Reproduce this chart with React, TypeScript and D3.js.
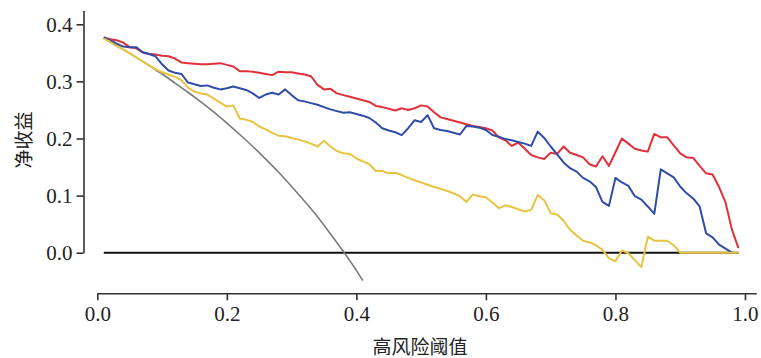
import { useEffect, useRef } from 'react';
import * as d3 from 'd3';

// risk thresholds 0.01 .. 0.99
const thresholds = d3.range(1, 100).map(i => i / 100);

const redNB = [
  0.377, 0.374, 0.372, 0.368, 0.360, 0.358, 0.351, 0.348, 0.347, 0.345,
  0.344, 0.340, 0.333, 0.332, 0.331, 0.330, 0.330, 0.331, 0.332, 0.329,
  0.326, 0.318, 0.318, 0.317, 0.315, 0.313, 0.311, 0.317, 0.316, 0.316,
  0.314, 0.312, 0.309, 0.294, 0.286, 0.287, 0.279, 0.276, 0.273, 0.270,
  0.267, 0.264, 0.257, 0.255, 0.252, 0.249, 0.253, 0.250, 0.253, 0.258,
  0.256, 0.246, 0.237, 0.234, 0.231, 0.228, 0.225, 0.222, 0.220, 0.218,
  0.214, 0.202, 0.197, 0.187, 0.193, 0.182, 0.171, 0.167, 0.164, 0.175,
  0.173, 0.186, 0.175, 0.171, 0.167, 0.155, 0.151, 0.169, 0.152, 0.176,
  0.200, 0.191, 0.182, 0.179, 0.177, 0.208, 0.202, 0.202, 0.188, 0.174,
  0.167, 0.166, 0.152, 0.139, 0.137, 0.115, 0.088, 0.040, 0.008,
];

const blueNB = [
  0.377, 0.372, 0.366, 0.361, 0.360, 0.360, 0.351, 0.348, 0.344, 0.330,
  0.319, 0.315, 0.313, 0.298, 0.295, 0.292, 0.293, 0.289, 0.286, 0.288,
  0.291, 0.288, 0.285, 0.279, 0.271, 0.277, 0.280, 0.277, 0.286, 0.276,
  0.267, 0.265, 0.262, 0.259, 0.255, 0.251, 0.248, 0.245, 0.246, 0.243,
  0.240, 0.236, 0.228, 0.218, 0.214, 0.211, 0.206, 0.218, 0.232, 0.229,
  0.241, 0.218, 0.215, 0.213, 0.210, 0.207, 0.222, 0.221, 0.219, 0.215,
  0.206, 0.203, 0.199, 0.197, 0.194, 0.191, 0.187, 0.212, 0.201, 0.186,
  0.172, 0.158, 0.148, 0.142, 0.131, 0.125, 0.115, 0.089, 0.082, 0.131,
  0.123, 0.117, 0.099, 0.093, 0.081, 0.068, 0.146, 0.139, 0.132, 0.116,
  0.104, 0.095, 0.081, 0.034, 0.027, 0.014, 0.007, 0.000,
];

const yellowNB = [
  0.375, 0.369, 0.362, 0.356, 0.349, 0.342, 0.335, 0.328, 0.321, 0.316,
  0.312, 0.308, 0.302, 0.289, 0.282, 0.279, 0.277, 0.270, 0.263, 0.256,
  0.258, 0.235, 0.233, 0.229, 0.221, 0.216, 0.210, 0.205, 0.204, 0.201,
  0.198, 0.195, 0.191, 0.186, 0.196, 0.186, 0.178, 0.174, 0.173, 0.165,
  0.160, 0.155, 0.143, 0.143, 0.139, 0.140, 0.136, 0.131, 0.127, 0.123,
  0.119, 0.115, 0.112, 0.108, 0.104, 0.099, 0.089, 0.102, 0.099, 0.097,
  0.088, 0.078, 0.083, 0.080, 0.076, 0.072, 0.075, 0.101, 0.092, 0.069,
  0.067, 0.056, 0.040, 0.030, 0.021, 0.018, 0.013, 0.005, -0.010, -0.015,
  0.004, -0.001, -0.013, -0.025, 0.028, 0.021, 0.021, 0.021, 0.013, 0.000,
  0.000, 0.000, 0.000, 0.000, 0.000, 0.000, 0.000, 0.000, 0.000,
];

// treat-all curve
const allX = [0.01, 0.02, 0.03, 0.04, 0.05, 0.06, 0.07, 0.08, 0.09, 0.10,
  0.12, 0.14, 0.16, 0.18, 0.20, 0.22, 0.24, 0.26, 0.28, 0.30,
  0.32, 0.34, 0.36, 0.38, 0.40, 0.41];
const allNB = [0.375, 0.369, 0.362, 0.356, 0.349, 0.342, 0.335, 0.328, 0.320, 0.313,
  0.297, 0.281, 0.264, 0.246, 0.227, 0.207, 0.186, 0.164, 0.141, 0.116,
  0.090, 0.063, 0.033, 0.002, -0.031, -0.049];

// treat-none line
const noneX = [0.01, 0.99];
const noneNB = [0, 0];

const xTicks = [0, 0.2, 0.4, 0.6, 0.8, 1.0];
const yTicks = [0, 0.1, 0.2, 0.3, 0.4];

const series = [
  { name: 'red', x: thresholds, y: redNB, color: '#e0313b', width: 2 },
  { name: 'blue', x: thresholds, y: blueNB, color: '#2f4da8', width: 2 },
  { name: 'yellow', x: thresholds, y: yellowNB, color: '#e8c442', width: 2 },
];

const width = 761, height = 358;

const App = () => {
  const ref = useRef<SVGSVGElement | null>(null);

  useEffect(() => {
    const svg = d3.select(ref.current);
    svg.selectAll('*').remove();

    const x = d3.scaleLinear().domain([0, 1.0175]).range([97.3, 756.3]);
    const y = d3.scaleLinear().domain([0, 0.424]).range([252.7, 10.6]);

    const serif = '"Liberation Serif", "Times New Roman", serif';
    const cjk = '"Noto Sans CJK SC", sans-serif';

    // axes
    const gx = svg.append('g')
      .attr('transform', 'translate(0,293.3)')
      .call(d3.axisBottom(x).tickValues(xTicks).tickFormat(d3.format('.1f'))
        .tickSizeInner(7).tickSizeOuter(0).tickPadding(6));
    const gy = svg.append('g')
      .attr('transform', 'translate(83.5,0)')
      .call(d3.axisLeft(y).tickValues(yTicks).tickFormat(d3.format('.1f'))
        .tickSizeInner(7).tickSizeOuter(0).tickPadding(4));

    [gx, gy].forEach(g => {
      g.selectAll('path, line').attr('stroke', '#333').attr('stroke-width', 1.6);
      g.selectAll('text')
        .style('font-family', serif).style('font-size', '21px')
        .attr('fill', '#222');
    });

    // treat none
    const line = d3.line<[number, number]>().x(d => x(d[0])).y(d => y(d[1]));
    svg.append('path')
      .attr('d', line(noneX.map((v, i) => [v, noneNB[i]] as [number, number])))
      .attr('fill', 'none').attr('stroke', '#111').attr('stroke-width', 2);

    // treat all
    const smooth = d3.line<[number, number]>().x(d => x(d[0])).y(d => y(d[1])).curve(d3.curveMonotoneX);
    svg.append('path')
      .attr('d', smooth(allX.map((v, i) => [v, allNB[i]] as [number, number])))
      .attr('fill', 'none').attr('stroke', '#7a7a7a').attr('stroke-width', 1.6);

    // models (yellow drawn last sits over black on the tail)
    series.forEach(s => {
      svg.append('path')
        .attr('d', line(s.y.map((v, i) => [s.x[i], v] as [number, number])))
        .attr('fill', 'none').attr('stroke', s.color)
        .attr('stroke-width', s.width).attr('stroke-linejoin', 'round');
    });

    // axis titles
    svg.append('text')
      .attr('x', 420).attr('y', 354)
      .attr('text-anchor', 'middle')
      .style('font-family', cjk).style('font-size', '19px').attr('fill', '#222')
      .text('高风险阈值');
    svg.append('text')
      .attr('transform', 'translate(31,140) rotate(-90)')
      .attr('text-anchor', 'middle')
      .style('font-family', cjk).style('font-size', '19px').attr('fill', '#222')
      .text('净收益');
  }, []);

  return (
    <svg ref={ref} width={width} height={height}
      style={{ position: 'absolute', left: 0, top: 0, background: '#fff' }} />
  );
};

export default App;
